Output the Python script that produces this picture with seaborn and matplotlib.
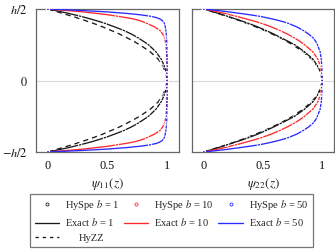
import numpy as np
import pandas as pd
import matplotlib
matplotlib.use("Agg")
import matplotlib.pyplot as plt
from matplotlib.lines import Line2D
import seaborn as sns

# ---------------- data (upper half, z from h/2 down to 0; curves are even in z) -------------
z_mark = [0.5, 0.45, 0.4, 0.35, 0.3, 0.25, 0.2, 0.15, 0.1, 0.05, 0.0]
z_line = [0.5, 0.49, 0.48, 0.47, 0.46, 0.45, 0.44, 0.43, 0.42, 0.41, 0.4,
          0.375, 0.35, 0.325, 0.3, 0.275, 0.25, 0.2, 0.15, 0.1, 0.05, 0.0]

# psi_11 : HySpe markers
psi11_hyspe_b1 = [0, 0.27, 0.478, 0.637, 0.754, 0.845, 0.907, 0.95, 0.978, 0.995, 1.0]
psi11_hyspe_b10 = [0, 0.578, 0.83, 0.94, 0.978, 0.99, 0.995, 0.998, 0.999, 1.0, 1.0]
psi11_hyspe_b50 = [0, 0.857, 0.977, 0.99, 0.995, 0.998, 0.999, 1.0, 1.0, 1.0, 1.0]
# psi_11 : exact curves
psi11_exact_b1 = [0, 0.06, 0.115, 0.17, 0.22, 0.27, 0.315, 0.36, 0.40, 0.44, 0.478,
                  0.56, 0.637, 0.70, 0.754, 0.80, 0.845, 0.907, 0.95, 0.978, 0.995, 1.0]
psi11_exact_b10 = [0, 0.15, 0.29, 0.40, 0.50, 0.578, 0.655, 0.72, 0.765, 0.80, 0.83,
                   0.895, 0.94, 0.963, 0.978, 0.985, 0.99, 0.995, 0.998, 0.999, 1.0, 1.0]
psi11_exact_b50 = [0, 0.27, 0.49, 0.65, 0.77, 0.857, 0.91, 0.94, 0.958, 0.97, 0.977,
                   0.985, 0.99, 0.993, 0.995, 0.997, 0.998, 0.999, 1.0, 1.0, 1.0, 1.0]
psi11_hyzz = [0, 0.04, 0.08, 0.12, 0.16, 0.2, 0.238, 0.275, 0.31, 0.345, 0.38,
              0.46, 0.53, 0.60, 0.66, 0.718, 0.77, 0.86, 0.925, 0.965, 0.99, 1.0]

# psi_22 : HySpe markers
psi22_hyspe_b1 = [0, 0.196, 0.377, 0.525, 0.65, 0.768, 0.852, 0.921, 0.963, 0.99, 1.0]
psi22_hyspe_b10 = [0, 0.27, 0.486, 0.642, 0.76, 0.852, 0.921, 0.963, 0.985, 0.997, 1.0]
psi22_hyspe_b50 = [0, 0.465, 0.712, 0.84, 0.921, 0.96, 0.983, 0.992, 0.997, 0.999, 1.0]
# psi_22 : exact curves
psi22_exact_b1 = [0, 0.04, 0.08, 0.12, 0.158, 0.196, 0.234, 0.271, 0.307, 0.342, 0.377,
                  0.455, 0.525, 0.59, 0.65, 0.71, 0.768, 0.852, 0.921, 0.963, 0.99, 1.0]
psi22_exact_b10 = [0, 0.06, 0.115, 0.17, 0.22, 0.27, 0.316, 0.36, 0.405, 0.446, 0.486,
                   0.57, 0.642, 0.705, 0.76, 0.81, 0.852, 0.921, 0.963, 0.985, 0.997, 1.0]
psi22_exact_b50 = [0, 0.11, 0.21, 0.30, 0.385, 0.465, 0.525, 0.58, 0.63, 0.675, 0.712,
                   0.785, 0.84, 0.885, 0.921, 0.945, 0.96, 0.983, 0.992, 0.997, 0.999, 1.0]
psi22_hyzz = [0, 0.038, 0.076, 0.114, 0.152, 0.19, 0.226, 0.262, 0.297, 0.33, 0.36,
              0.44, 0.51, 0.578, 0.64, 0.698, 0.75, 0.84, 0.91, 0.96, 0.99, 1.0]

b_values = [1, 10, 50]
colors = ["#1a1a1a", "#ff2a2a", "#2a2aff"]
x_ticks = [0, 0.5, 1]
x_tick_labels = ["0", "0.5", "1"]
y_ticks = [-0.5, 0, 0.5]
y_tick_labels = [r"$-h/2$", r"$0$", r"$h/2$"]
x_labels = [r"$\psi_{11}(z)$", r"$\psi_{22}(z)$"]


def full(z_half, v_half):
    """Mirror the upper-half data onto the lower half (even functions of z)."""
    z_half = np.asarray(z_half, float)
    v_half = np.asarray(v_half, float)
    z = np.concatenate([z_half, -z_half[::-1][1:]])
    v = np.concatenate([v_half, v_half[::-1][1:]])
    return pd.DataFrame({"psi": v, "z": z})


# ---------------- style ----------------
sns.set_theme(style="white")
plt.rcParams["font.family"] = ["Liberation Serif", "DejaVu Serif"]
plt.rcParams["mathtext.fontset"] = "stix"
plt.rcParams["axes.unicode_minus"] = True

fig = plt.figure(figsize=(3.35, 2.5), dpi=100)
ax1 = fig.add_axes([36 / 335, 1 - 152 / 250, 143 / 335, 143 / 250])
ax2 = fig.add_axes([192 / 335, 1 - 152 / 250, 142 / 335, 143 / 250])

panels = [
    (ax1, [psi11_hyspe_b1, psi11_hyspe_b10, psi11_hyspe_b50],
     [psi11_exact_b1, psi11_exact_b10, psi11_exact_b50], psi11_hyzz),
    (ax2, [psi22_hyspe_b1, psi22_hyspe_b10, psi22_hyspe_b50],
     [psi22_exact_b1, psi22_exact_b10, psi22_exact_b50], psi22_hyzz),
]

LW = 0.95
for i, (ax, hyspe, exact, hyzz) in enumerate(panels):
    ax.axhline(0, color="#d9d9d9", lw=0.8, zorder=0)
    d = full(z_line, hyzz)
    sns.lineplot(data=d, x="psi", y="z", orient="y", ax=ax, color="#1a1a1a",
                 linewidth=LW, linestyle=(0, (4, 3)), zorder=2)
    for vals, c in zip(exact, colors):
        d = full(z_line, vals)
        sns.lineplot(data=d, x="psi", y="z", orient="y", ax=ax, color=c,
                     linewidth=LW, zorder=3)
    for vals, c in zip(hyspe, colors):
        d = full(z_mark, vals)
        sns.scatterplot(data=d, x="psi", y="z", ax=ax, marker="o", s=6,
                        color=c, facecolors="none", linewidth=0.6, zorder=4)

    ax.set_xlim(-0.1, 1.1)
    ax.set_ylim(-0.5, 0.5)
    ax.set_xticks(x_ticks)
    ax.set_xticklabels(x_tick_labels)
    ax.set_yticks(y_ticks)
    if i == 0:
        ax.set_yticklabels(y_tick_labels)
    else:
        ax.set_yticklabels([])
    ax.set_xlabel(x_labels[i], fontsize=9.5, labelpad=3)
    ax.set_ylabel("")
    ax.tick_params(axis="both", which="major", direction="out", length=3.5,
                   width=0.6, color="#aaaaaa", labelsize=8.8, pad=2.5,
                   labelcolor="#111111")
    for sp in ax.spines.values():
        sp.set_color("#666666")
        sp.set_linewidth(0.9)
    ax.grid(False)

# ---------------- legend ----------------
def mk(c):
    return Line2D([], [], color=c, marker="o", linestyle="none", markersize=2.2,
                  markerfacecolor="none", markeredgewidth=0.6)


def ln(c, ls="-"):
    return Line2D([], [], color=c, lw=LW, linestyle=ls)


handles = [mk(colors[0]), ln(colors[0]), ln("#1a1a1a", (0, (2.5, 3))),
           mk(colors[1]), ln(colors[1]),
           mk(colors[2]), ln(colors[2])]
labels = [rf"HySpe $b$ = {b_values[0]}", rf"Exact $b$ = {b_values[0]}", "HyZZ",
          rf"HySpe $b$ = {b_values[1]}", rf"Exact $b$ = {b_values[1]}",
          rf"HySpe $b$ = {b_values[2]}", rf"Exact $b$ = {b_values[2]}"]

leg = fig.legend(handles, labels, ncol=3, loc="upper center",
                 bbox_to_anchor=(0.5125, 0.226), fontsize=7.6, frameon=True,
                 fancybox=False, edgecolor="#777777", framealpha=1,
                 handlelength=2.3, handletextpad=0.6, columnspacing=0.4,
                 labelspacing=0.45, borderpad=0.4, borderaxespad=0)
leg.get_frame().set_linewidth(0.9)
for t in leg.get_texts():
    if t.get_text() == "HyZZ":
        t.set_position((13, 0))

fig.savefig("out.png", dpi=100)
